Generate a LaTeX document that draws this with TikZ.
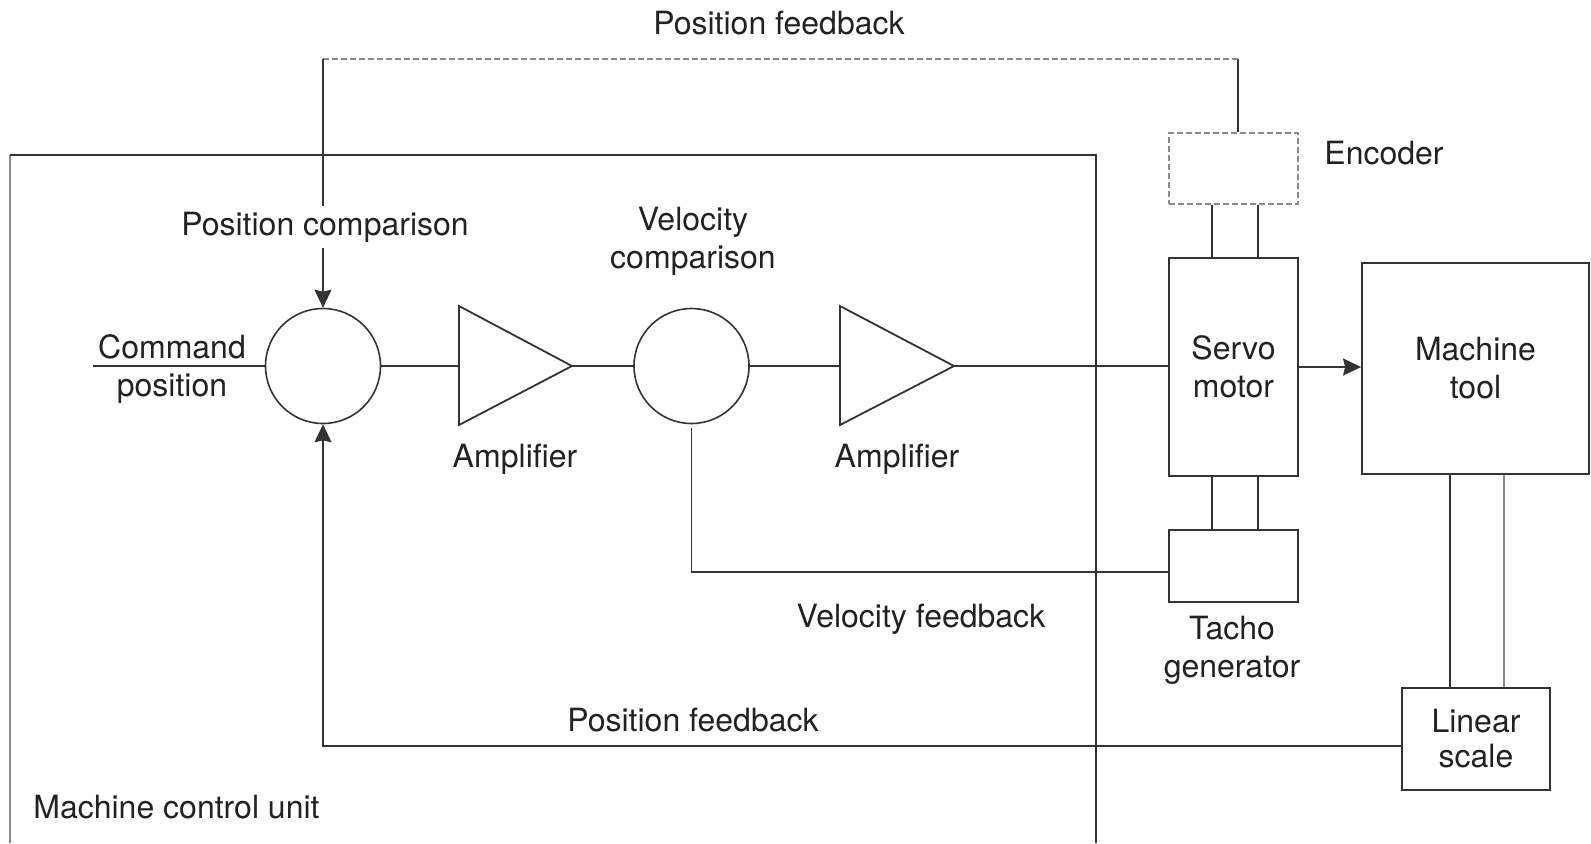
\documentclass[tikz,border=0pt]{standalone}
\usepackage{fontspec}
\setmainfont{TeX Gyre Heros}
\usetikzlibrary{arrows.meta}
\definecolor{linec}{HTML}{333333}
\definecolor{lightc}{HTML}{8A8A8A}
\definecolor{textc}{HTML}{222222}
\begin{document}
\begin{tikzpicture}[x=0.5pt,y=-0.5pt,
  font=\fontsize{16pt}{19pt}\selectfont,
  every node/.style={text=textc},
  line/.style={draw=linec, line width=0.9pt},
  lightline/.style={draw=lightc, line width=0.9pt},
  dashline/.style={draw=lightc, line width=0.9pt, dash pattern=on 3pt off 1.5pt},
  arr/.style={-{Stealth[length=9pt,width=8.5pt,inset=1pt]}},
  sumc/.style={circle, draw=linec, line width=0.8pt, minimum size=57.5pt, inner sep=0pt},
  blockn/.style={rectangle, draw=linec, line width=0.9pt, inner sep=0pt, align=center},
  lbl/.style={align=center, inner sep=0pt}
]
\useasboundingbox (0,0) rectangle (1591,843);

% machine control unit frame
\draw[lightline] (10,843) -- (10,155);
\draw[line] (10,155) -- (1096,155) -- (1096,843);
\node[lbl, anchor=base west] (mcu) at (33,818) {Machine control unit};

% summing junctions
\node[sumc] (c1) at (323,366) {};
\node[sumc] (c2) at (691.5,366) {};

% amplifiers
\coordinate (a1in) at (459,366);
\coordinate (a1out) at (572,366);
\draw[line] (459,306) -- (a1out) -- (459,425) -- cycle;
\coordinate (a2in) at (840,366);
\coordinate (a2out) at (954,366);
\draw[line] (840,306) -- (a2out) -- (840,425) -- cycle;
\node[lbl, anchor=base] (amp1) at (515,467) {Amplifier};
\node[lbl, anchor=base] (amp2) at (897,467) {Amplifier};

% blocks
\node[blockn, minimum width=64.5pt, minimum height=109pt] (servo) at (1233.5,367) {Servo\\motor};
\node[blockn, dashline, minimum width=64.5pt, minimum height=35.5pt] (enc) at (1233.5,168.5) {};
\node[blockn, minimum width=64.5pt, minimum height=36pt] (tacho) at (1233.5,566) {};
\node[blockn, minimum width=113.5pt, minimum height=105.5pt] (machine) at (1475.5,368.5) {Machine\\tool};
\node[blockn, minimum width=74pt, minimum height=51pt] (linear) at (1476,739) {Linear\\[-1.5pt]scale};

\node[lbl, anchor=base west] (enclbl) at (1324,164) {Encoder};
\node[lbl, anchor=base] (tacholbl) at (1232,677) {Tacho\\generator};

% forward path
\coordinate (cmd) at (93,366);
\draw[line] (cmd) -- (c1.west);
\node[lbl, anchor=base] (cmdlbl) at (172,396) {Command\\position};
\draw[line] (c1.east) -- (a1in);
\draw[line] (a1out) -- (c2.west);
\draw[line] (c2.east) -- (a2in);
\draw[line] (a2out) -- (a2out -| servo.west);
\draw[line, arr] (servo.east) -- (servo.east -| machine.west);

% mechanical couplings
\draw[line] ([xshift=-10.75pt]enc.south) -- ([xshift=-10.75pt]servo.north);
\draw[line] ([xshift=12.25pt]enc.south) -- ([xshift=12.25pt]servo.north);
\draw[line] ([xshift=-10.75pt]servo.south) -- ([xshift=-10.75pt]tacho.north);
\draw[line] ([xshift=12.25pt]servo.south) -- ([xshift=12.25pt]tacho.north);
\draw[line] ([xshift=-12.75pt]machine.south) -- ([xshift=-13pt]linear.north);
\draw[lightline] ([xshift=14.25pt]machine.south) -- ([xshift=14pt]linear.north);

% velocity feedback
\draw[line] ([yshift=-2pt]c2.south) |- ([yshift=-3pt]tacho.west);
\node[lbl, anchor=base] (vfb) at (921,627) {Velocity feedback};
\node[lbl, anchor=base] (vcmp) at (693,268) {Velocity\\comparison};

% position feedback (linear scale)
\draw[line, arr] ([yshift=-3.5pt]linear.west) -| (c1.south);
\node[lbl, anchor=base] (pfb) at (693,731) {Position feedback};

% position feedback (encoder)
\coordinate (tr) at ([xshift=2.25pt]enc.north |- 0,59);
\coordinate (tl) at (c1.north |- tr);
\draw[line] ([xshift=2.25pt]enc.north) -- (tr);
\draw[dashline] (tr) -- (tl);
\draw[line, arr] (tl) -- (c1.north);
\node[lbl, anchor=base, fill=white, inner sep=3pt] (pcmp) at (325,235) {Position comparison};
\node[lbl, anchor=base] (pfbtop) at (779,34) {Position feedback};
\end{tikzpicture}
\end{document}
